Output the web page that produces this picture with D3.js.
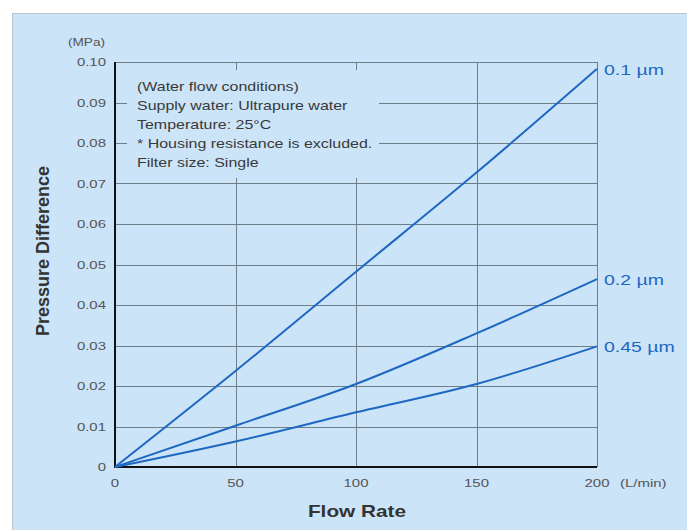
<!DOCTYPE html>
<html>
<head>
<meta charset="utf-8">
<script src="https://cdn.jsdelivr.net/npm/d3@7.9.0/dist/d3.min.js"></script>
<style>
  body { margin: 0; background: #fff; }
  svg { display: block; font-family: "Liberation Sans", Arial, sans-serif; }
</style>
</head>
<body>
<svg id="chart" width="687" height="530"></svg>
<script>
const flowRates = [0, 50, 100, 150, 200];
const series = [
  { label: '0.1 µm', values: [0, 0.0237, 0.0482, 0.0727, 0.0983] },
  { label: '0.2 µm', values: [0, 0.0102, 0.0205, 0.0330, 0.0464] },
  { label: '0.45 µm', values: [0, 0.0063, 0.0135, 0.0205, 0.0298] },
];
const yTicks = [0, 0.01, 0.02, 0.03, 0.04, 0.05, 0.06, 0.07, 0.08, 0.09, 0.10];
const xTicks = [0, 50, 100, 150, 200];
const notes = [
  '(Water flow conditions)',
  'Supply water: Ultrapure water',
  'Temperature: 25°C',
  '* Housing resistance is excluded.',
  'Filter size: Single',
];

const svg = d3.select('#chart');
const blue = '#1e68c2';
const bg = '#cce4f8';
const stretch = 1.3; // the original text is drawn wide

// text drawn a bit wider than the font, like in the source figure
function wideText(parent, px, py, str, size, anchor) {
  return parent.append('text')
    .attr('transform', `translate(${px},${py}) scale(${stretch},1)`)
    .attr('text-anchor', anchor || 'start')
    .attr('font-size', size)
    .text(str);
}

svg.append('rect')
  .attr('x', 12.5).attr('y', 13.5)
  .attr('width', 700).attr('height', 540)
  .attr('fill', bg)
  .attr('stroke', '#b9c4cc');

const x = d3.scaleLinear().domain([0, 200]).range([115, 597]);
const y = d3.scaleLinear().domain([0, 0.10]).range([467, 62]);

// grid
let grid = svg.append('g').attr('stroke', '#6f7f8a').attr('stroke-width', 1);
yTicks.slice(1).forEach((t) => {
  grid.append('line')
    .attr('x1', x(0)).attr('x2', x(200))
    .attr('y1', Math.round(y(t)) + 0.5).attr('y2', Math.round(y(t)) + 0.5);
});
xTicks.slice(1).forEach((t) => {
  grid.append('line')
    .attr('x1', Math.round(x(t)) + 0.5).attr('x2', Math.round(x(t)) + 0.5)
    .attr('y1', y(0)).attr('y2', y(0.10));
});

// note box covers grid
svg.append('rect')
  .attr('x', 127).attr('y', 70)
  .attr('width', 252).attr('height', 108)
  .attr('fill', bg);

let noteG = svg.append('g').attr('fill', '#3a3a3a');
notes.forEach((d, i) => {
  wideText(noteG, 137, 91 + i * 19, d, 12.3);
});

// axes
svg.append('line')
  .attr('x1', x(0)).attr('x2', x(0))
  .attr('y1', y(0.10)).attr('y2', y(0) + 1)
  .attr('stroke', '#111').attr('stroke-width', 2);
svg.append('line')
  .attr('x1', x(0) - 1).attr('x2', x(200))
  .attr('y1', y(0)).attr('y2', y(0))
  .attr('stroke', '#111').attr('stroke-width', 2);

let tickG = svg.append('g').attr('fill', '#555');
yTicks.forEach((d) => {
  wideText(tickG, 106, y(d) + 4, d === 0 ? '0' : d3.format('.2f')(d), 11.5, 'end');
});
xTicks.forEach((d) => {
  wideText(tickG, x(d), 487, String(d), 11.5, 'middle');
});
wideText(tickG, 620, 487, '(L/min)', 11.5);
wideText(tickG, 105, 46, '(MPa)', 10.5, 'end');

wideText(svg, 357, 517, 'Flow Rate', 16, 'middle')
  .attr('font-weight', 'bold').attr('fill', '#333');
svg.append('text')
  .attr('transform', 'translate(49,251) rotate(-90)')
  .attr('text-anchor', 'middle')
  .attr('font-size', 18).attr('font-weight', 'bold')
  .attr('fill', '#333').text('Pressure Difference');

// lines
const line = d3.line()
  .x((d, i) => x(flowRates[i]))
  .y((d) => y(d))
  .curve(d3.curveMonotoneX);

series.forEach((s) => {
  svg.append('path')
    .attr('d', line(s.values))
    .attr('fill', 'none')
    .attr('stroke', blue)
    .attr('stroke-width', 2);
  wideText(svg, 604, y(s.values[s.values.length - 1]) + 6, s.label, 15)
    .attr('fill', blue);
});
</script>
</body>
</html>
